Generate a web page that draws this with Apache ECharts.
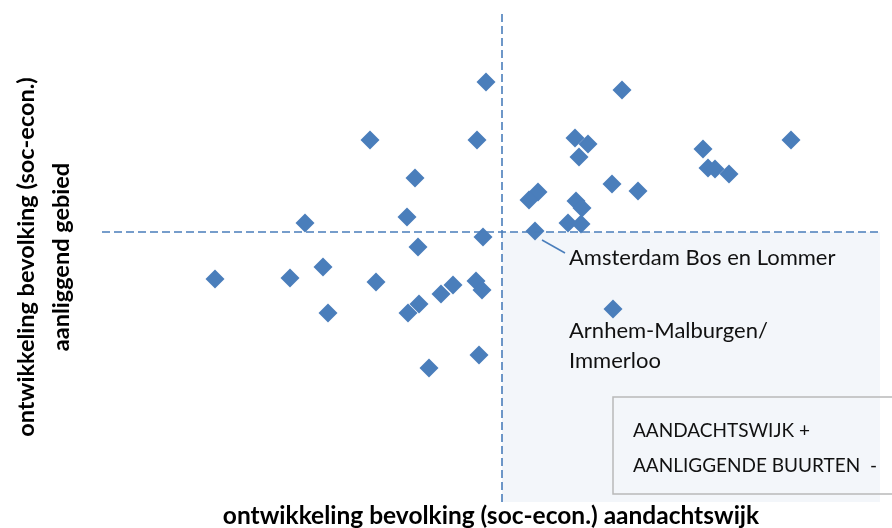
<!DOCTYPE html>
<html>
<head>
<meta charset="utf-8">
<script src="https://cdn.jsdelivr.net/npm/echarts@6/dist/echarts.min.js"></script>
<style>html,body{margin:0;padding:0;background:#fff}#c{width:892px;height:528px}</style>
</head>
<body>
<div id="c"></div>
<script>
// x: ontwikkeling aandachtswijk, y: ontwikkeling aanliggend gebied (crosshair at 0,0)
const xValues = [-0.16, 1.20, -1.32, -0.25, 0.73, 0.86, 0.77, 2.89, 2.01, 2.06,
                 2.13, 2.27, -0.87, 1.10, 1.36, 0.36, 0.27, 0.74, 0.80, -0.95,
                 -1.97, 0.66, 0.79, 0.33, -0.19, -0.84, -2.87, -2.12, -1.79, -1.26,
                 -1.74, -0.94, -0.83, -0.61, -0.49, -0.26, -0.20, -0.23, -0.73, 1.11];
const yValues = [1.50, 1.42, 0.92, 0.92, 0.94, 0.88, 0.75, 0.92, 0.83, 0.64,
                 0.63, 0.58, 0.54, 0.48, 0.41, 0.40, 0.32, 0.31, 0.24, 0.15,
                 0.09, 0.09, 0.08, 0.01, -0.05, -0.15, -0.47, -0.46, -0.35, -0.50,
                 -0.81, -0.81, -0.72, -0.62, -0.53, -0.49, -0.58, -1.23, -1.36, -0.77];
const annotIndex = [23, 39];
const annotText = ['Amsterdam Bos en Lommer', 'Arnhem-Malburgen/\nImmerloo'];
const legendLines = ['AANDACHTSWIJK +', 'AANLIGGENDE BUURTEN  -'];
const xTitle = 'ontwikkeling bevolking (soc-econ.) aandachtswijk';
const yTitle = 'ontwikkeling bevolking (soc-econ.)\naanliggend gebied';
const xRange = [-4, 3.78];
const yRange = [-2.70, 2.20];
const crossX = 0, crossY = 0;

const FONT = 'Lato';
const blue = '#4a7ebb';
const labelStyles = [
  {offset: [34, 27], verticalAlign: 'middle'},
  {offset: [-44, 7], verticalAlign: 'top'}
];
const data = xValues.map((x, i) => {
  const k = annotIndex.indexOf(i);
  const item = {value: [x, yValues[i]]};
  if (k >= 0) {
    item.label = Object.assign({
      show: true, formatter: annotText[k], position: 'inside', align: 'left',
      color: '#111', fontFamily: FONT, fontSize: 22, lineHeight: 30
    }, labelStyles[k]);
  }
  return item;
});

const chart = echarts.init(document.getElementById('c'), null, {renderer: 'canvas'});
chart.setOption({
  animation: false,
  backgroundColor: '#fff',
  grid: {left: 102, right: 12, top: 12, bottom: 26, containLabel: false, outerBoundsMode: 'none'},
  xAxis: {
    type: 'value', min: xRange[0], max: xRange[1],
    axisLine: {show: false}, axisTick: {show: false}, axisLabel: {show: false}, splitLine: {show: false},
    name: xTitle, nameLocation: 'middle', nameGap: 2,
    nameTextStyle: {fontFamily: FONT, fontWeight: 'bold', fontSize: 24.5, color: '#000'}
  },
  yAxis: {
    type: 'value', min: yRange[0], max: yRange[1],
    axisLine: {show: false}, axisTick: {show: false}, axisLabel: {show: false}, splitLine: {show: false},
    name: yTitle, nameLocation: 'middle', nameGap: 23, nameRotate: 90,
    nameTextStyle: {fontFamily: FONT, fontWeight: 'bold', fontSize: 23.5, lineHeight: 35, color: '#000'}
  },
  series: [
    {
      type: 'scatter', z: 1, data: [], silent: true,
      markArea: {
        silent: true,
        itemStyle: {color: '#f3f6fa'},
        data: [[{coord: [crossX, crossY]}, {coord: [xRange[1], yRange[0]]}]]
      },
      markLine: {
        silent: true, symbol: 'none',
        label: {show: false},
        lineStyle: {color: blue, width: 1.6, type: [8, 4]},
        data: [{xAxis: crossX}, {yAxis: crossY}]
      }
    },
    {
      type: 'scatter', z: 3,
      symbol: 'diamond', symbolSize: 19,
      itemStyle: {color: blue, opacity: 1},
      data: data
    }
  ]
});

// leader line for first annotation, derived from the point's pixel position
const p = chart.convertToPixel({seriesIndex: 1}, [xValues[annotIndex[0]], yValues[annotIndex[0]]]);
chart.setOption({
  graphic: [
    {type: 'line', z: 10, shape: {x1: p[0] + 7, y1: p[1] + 9, x2: p[0] + 30, y2: p[1] + 22},
     style: {stroke: blue, lineWidth: 1.5}},
    {type: 'rect', z: 5, shape: {x: 613, y: 397, width: 290, height: 97},
     style: {fill: 'rgba(0,0,0,0)', stroke: '#b9b9b9', lineWidth: 1.5}},
    {type: 'text', z: 6, left: 633, top: 421,
     style: {text: legendLines[0], fontFamily: FONT, fontSize: 19, fill: '#111'}},
    {type: 'text', z: 6, left: 633, top: 456,
     style: {text: legendLines[1], fontFamily: FONT, fontSize: 19, fill: '#111'}}
  ]
});
</script>
</body>
</html>
